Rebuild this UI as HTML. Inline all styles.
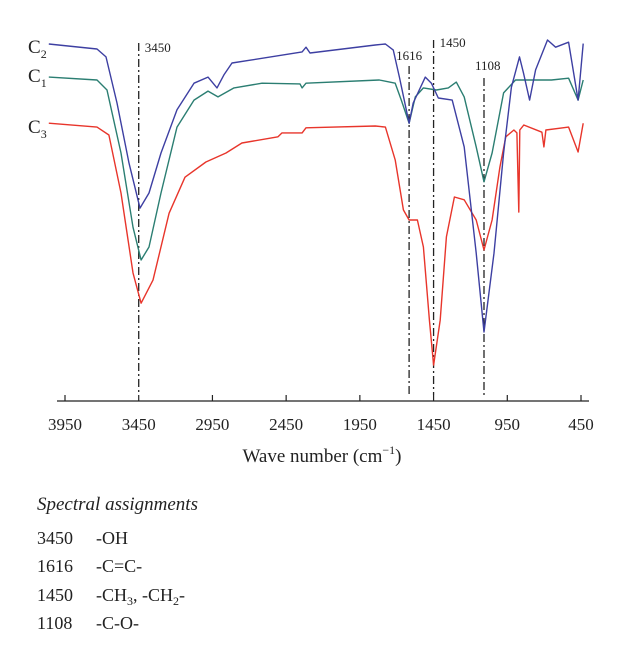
<!DOCTYPE html>
<html><head><meta charset="utf-8"><style>
body{margin:0;background:#fff;}
svg text{font-family:"Liberation Serif",serif;fill:#222;}
</style></head><body>
<svg id="chart" width="629" height="660" viewBox="0 0 629 660" xmlns="http://www.w3.org/2000/svg">
<g id="marks"></g>
<g id="axis"></g>
<text x="322" y="462" font-size="19" text-anchor="middle">Wave number (cm<tspan font-size="12" dy="-8">−1</tspan><tspan dy="8">)</tspan></text>
<text x="37" y="510" font-size="19" font-style="italic">Spectral assignments</text>
<g font-size="18">
<text x="37" y="544">3450</text><text x="96" y="544">-OH</text>
<text x="37" y="572">1616</text><text x="96" y="572">-C=C-</text>
<text x="37" y="601">1450</text><text x="96" y="601">-CH<tspan font-size="12" dy="4">3</tspan><tspan dy="-4">, -CH</tspan><tspan font-size="12" dy="4">2</tspan><tspan dy="-4">-</tspan></text>
<text x="37" y="629">1108</text><text x="96" y="629">-C-O-</text>
</g>
<g font-size="19">
<text x="28" y="53">C<tspan font-size="12" dy="5">2</tspan></text>
<text x="28" y="82">C<tspan font-size="12" dy="5">1</tspan></text>
<text x="28" y="133">C<tspan font-size="12" dy="5">3</tspan></text>
</g>
</svg>
<script>
const ticks=[3950,3450,2950,2450,1950,1450,950,450];
const peaks=[3450,1616,1450,1108];
const peakLabelY=[52,60,47,70];
const c2W=[4060,3733,3672,3597,3516,3441,3380,3299,3190,3075,2980,2919,2872,2817,2695,2342,2315,2288,1845,1777,1723,1682,1616,1588,1506,1465,1418,1324,1242,1161,1108,1040,975,922,867,840,799,758,677,622,534,470,435];
const c2V=[98.9,97.5,95.3,82.5,65.8,53.3,57.5,68.6,80.6,88,89.7,86.7,90.3,93.6,94.4,96.7,98,96.4,98.6,98.9,97.2,89.7,76.9,82.5,89.7,88,83.9,83.3,70.3,40.8,18.9,40.8,68.6,86.9,95.3,90.8,83.3,91.7,100,98,99.4,83.3,99];
const c1W=[4060,3733,3665,3570,3489,3434,3380,3299,3190,3075,2980,2912,2804,2614,2356,2342,2315,1818,1710,1669,1616,1574,1519,1431,1350,1296,1242,1161,1108,1053,975,894,650,534,470,435];
const c1V=[89.7,88.9,86.1,68.6,48,38.9,42.5,57.5,75.8,83.3,85.8,84.2,86.7,88,87.8,86.7,88,88.9,88,83.3,76.9,84.2,86.7,86.1,86.7,88.3,84.2,70.3,60.6,68.6,85.3,88.9,88.9,89.4,83.3,88.9];
const c3W=[4060,3733,3652,3570,3489,3434,3353,3244,3136,2994,2858,2750,2505,2478,2342,2315,1845,1777,1710,1655,1616,1560,1519,1478,1450,1405,1363,1309,1242,1161,1108,1053,1000,960,905,885,872,865,838,715,702,688,534,470,435];
const c3V=[76.9,75.8,73.6,57.5,35.3,26.9,33.3,51.9,61.9,66.1,68.6,71.4,73.1,74.2,74.2,75.6,76.1,75.8,66.7,52.8,50,50,42.5,22.2,9.7,22.2,45.3,56.4,55.6,50,41.7,50,64.7,73.1,75,74.2,52.2,75,76.4,74.4,70.3,75,75.8,68.9,76.9];
const NS="http://www.w3.org/2000/svg";
const xs=w=>65+(3950-w)*0.14743;
const ys=v=>400-v*3.6;
const marks=document.getElementById('marks');
const axis=document.getElementById('axis');
function mk(tag,attrs,parent){const e=document.createElementNS(NS,tag);for(const k in attrs)e.setAttribute(k,attrs[k]);parent.appendChild(e);return e;}
const labelDx=[6,-13,6,-9];
const lineTop=[43,66,40,78];
peaks.forEach((p,i)=>{
  const l=mk('line',{x1:xs(p),x2:xs(p),y1:lineTop[i],y2:395,stroke:'#222','stroke-width':1.3,'stroke-dasharray':'8,3,2,3'},marks);
  
  
  const t=mk('text',{x:xs(p)+labelDx[i],y:peakLabelY[i],'font-size':13},marks);
  t.textContent=p;
  
  
});
function series(W,V,color,name){
  const d=W.map((w,i)=>(i?'L':'M')+xs(w).toFixed(1)+','+ys(V[i]).toFixed(1)).join('');
  const p=mk('path',{d:d,fill:'none',stroke:color,'stroke-width':1.4,'stroke-linejoin':'round'},marks);
  
  
}
series(c3W,c3V,'#e8352b','series-c3');
series(c1W,c1V,'#2b7e72','series-c1');
series(c2W,c2V,'#3d3fa2','series-c2');
const ax=mk('line',{x1:57,x2:589,y1:401,y2:401,stroke:'#222','stroke-width':1.3},axis);


ticks.forEach(t=>{
  const tk=mk('line',{x1:xs(t),x2:xs(t),y1:395,y2:401,stroke:'#222','stroke-width':1.2},axis);
  
  
  const tl=mk('text',{x:xs(t),y:430,'font-size':17,'text-anchor':'middle'},axis);
  tl.textContent=t;
  
  
});
</script>
</body></html>
